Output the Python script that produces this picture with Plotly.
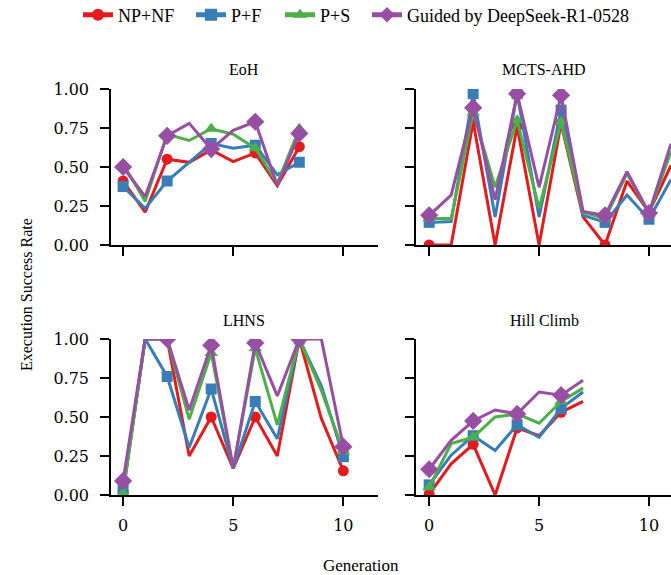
import plotly.graph_objects as go

# ---------------- data ----------------
methods = ["NP+NF", "P+F", "P+S", "Guided by DeepSeek-R1-0528"]
panel_titles = ["EoH", "MCTS-AHD", "LHNS", "Hill Climb"]

eoh_npnf = [0.41, 0.21, 0.55, 0.53, 0.61, 0.535, 0.59, 0.38, 0.63]
eoh_pf = [0.375, 0.235, 0.41, 0.53, 0.65, 0.62, 0.64, 0.45, 0.53]
eoh_ps = [0.52, 0.28, 0.71, 0.67, 0.745, 0.71, 0.62, 0.395, 0.745]
eoh_guided = [0.50, 0.31, 0.70, 0.78, 0.615, 0.735, 0.79, 0.38, 0.715]

mcts_npnf = [0.0, 0.0, 0.79, 0.0, 0.76, 0.0, 0.78, 0.18, 0.0, 0.41, 0.21, 0.51]
mcts_pf = [0.145, 0.15, 0.97, 0.18, 0.97, 0.18, 0.865, 0.19, 0.145, 0.32, 0.165, 0.42]
mcts_ps = [0.17, 0.17, 0.85, 0.37, 0.80, 0.235, 0.79, 0.21, 0.17, 0.46, 0.20, 0.60]
mcts_guided = [0.19, 0.32, 0.88, 0.29, 0.97, 0.37, 0.96, 0.215, 0.19, 0.47, 0.205, 0.65]

lhns_npnf = [0.02, 1.0, 1.0, 0.25, 0.50, 0.17, 0.50, 0.25, 1.0, 0.49, 0.155]
lhns_pf = [0.03, 1.0, 0.76, 0.305, 0.68, 0.17, 0.60, 0.36, 1.0, 0.70, 0.245]
lhns_ps = [0.01, 1.0, 1.0, 0.485, 0.91, 0.17, 0.94, 0.45, 1.0, 0.67, 0.28]
lhns_guided = [0.09, 1.0, 1.0, 0.545, 0.96, 0.17, 0.975, 0.635, 1.0, 1.0, 0.31]

hc_npnf = [0.005, 0.20, 0.325, 0.0, 0.43, 0.38, 0.53, 0.60]
hc_pf = [0.065, 0.255, 0.38, 0.285, 0.45, 0.37, 0.555, 0.66]
hc_ps = [0.05, 0.33, 0.37, 0.50, 0.52, 0.46, 0.60, 0.685]
hc_guided = [0.165, 0.35, 0.475, 0.545, 0.52, 0.66, 0.64, 0.735]

panels = [
    [eoh_npnf, eoh_pf, eoh_ps, eoh_guided],
    [mcts_npnf, mcts_pf, mcts_ps, mcts_guided],
    [lhns_npnf, lhns_pf, lhns_ps, lhns_guided],
    [hc_npnf, hc_pf, hc_ps, hc_guided],
]

x_ticks = [0, 5, 10]
y_ticks = [0.0, 0.25, 0.5, 0.75, 1.0]
y_tick_labels = ["0.00", "0.25", "0.50", "0.75", "1.00"]

# ---------------- style ----------------
colors = ["#e41a1c", "#377eb8", "#4daf4a", "#984ea3"]
symbols = ["circle", "square", "triangle-up", "diamond"]
msizes = [11, 11, 12, 14]

W, H = 671, 575
SERIF = "Liberation Serif"
TICKFONT = dict(family="DejaVu Serif", size=16, color="#000")

legend_names = ["legend", "legend2", "legend3", "legend4"]
legend_x_px = [78, 191, 280, 367]

fig = go.Figure()

for p, series in enumerate(panels):
    ax = "" if p == 0 else str(p + 1)
    for m, vals in enumerate(series):
        gens = list(range(len(vals)))
        sizes = [msizes[m] if g % 2 == 0 else 0 for g in gens]
        fig.add_trace(go.Scatter(
            x=gens, y=vals, mode="lines+markers",
            name=methods[m], legendgroup=methods[m], showlegend=(p == 0),
            legend=legend_names[m],
            line=dict(color=colors[m], width=3),
            marker=dict(color=colors[m], symbol=symbols[m], size=sizes, opacity=1,
                        line=dict(width=0)),
            xaxis="x" + ax, yaxis="y" + ax,
        ))

# domains in pixels
left_x = (111, 377.5)
right_x = (416, 671)
top_y = (89, 245)
bot_y = (339, 495)

def xd(a):
    return [a[0] / W, a[1] / W]

def yd(a):
    return [1 - a[1] / H, 1 - a[0] / H]

common_x = dict(showline=True, linecolor="#000", linewidth=1.5, ticks="outside",
                ticklen=9, tickwidth=1.5, tickcolor="#000", showgrid=False, zeroline=False,
                tickvals=x_ticks, tickfont=TICKFONT, ticklabelstandoff=6)
common_y = dict(showline=True, linecolor="#000", linewidth=1.5, ticks="outside",
                ticklen=9, tickwidth=1.5, tickcolor="#000", showgrid=False, zeroline=False,
                tickvals=y_ticks, ticktext=y_tick_labels, range=[0, 1], tickfont=TICKFONT,
                ticklabelstandoff=8)

fig.update_layout(
    xaxis=dict(common_x, domain=xd(left_x), range=[-0.55, 11.55], anchor="y", showticklabels=False),
    yaxis=dict(common_y, domain=yd(top_y), anchor="x"),
    xaxis2=dict(common_x, domain=xd(right_x), range=[-0.6, 11.0], anchor="y2", showticklabels=False),
    yaxis2=dict(common_y, domain=yd(top_y), anchor="x2", showticklabels=False),
    xaxis3=dict(common_x, domain=xd(left_x), range=[-0.55, 11.55], anchor="y3"),
    yaxis3=dict(common_y, domain=yd(bot_y), anchor="x3"),
    xaxis4=dict(common_x, domain=xd(right_x), range=[-0.6, 11.0], anchor="y4"),
    yaxis4=dict(common_y, domain=yd(bot_y), anchor="x4", showticklabels=False),
)

annots = []
title_pos = [(244, 70), (544, 70), (244, 320), (544, 320)]
for t, (px, py) in zip(panel_titles, title_pos):
    annots.append(dict(text=t, x=px / W, y=1 - py / H, xref="paper", yref="paper",
                       xanchor="center", yanchor="middle", showarrow=False,
                       font=dict(family=SERIF, size=16, color="#000")))
annots.append(dict(text="Generation", x=361 / W, y=1 - 565 / H, xref="paper", yref="paper",
                   xanchor="center", yanchor="middle", showarrow=False,
                   font=dict(family=SERIF, size=17, color="#000")))
annots.append(dict(text="Execution Success Rate", x=26 / W, y=1 - 295 / H, xref="paper", yref="paper",
                   xanchor="center", yanchor="middle", showarrow=False, textangle=-90,
                   font=dict(family=SERIF, size=16, color="#000")))

legends = {}
for name, lx in zip(legend_names, legend_x_px):
    legends[name] = dict(orientation="h", x=lx / W, xanchor="left", y=1 - 15 / H, yanchor="middle",
                         font=dict(family=SERIF, size=18, color="#000"), itemsizing="constant",
                         bgcolor="rgba(0,0,0,0)", borderwidth=0)

fig.update_layout(
    width=W, height=H, autosize=False,
    margin=dict(l=0, r=0, t=0, b=0, pad=0, autoexpand=False),
    plot_bgcolor="white", paper_bgcolor="white",
    annotations=annots,
    **legends,
)

fig.write_html("out.html")
